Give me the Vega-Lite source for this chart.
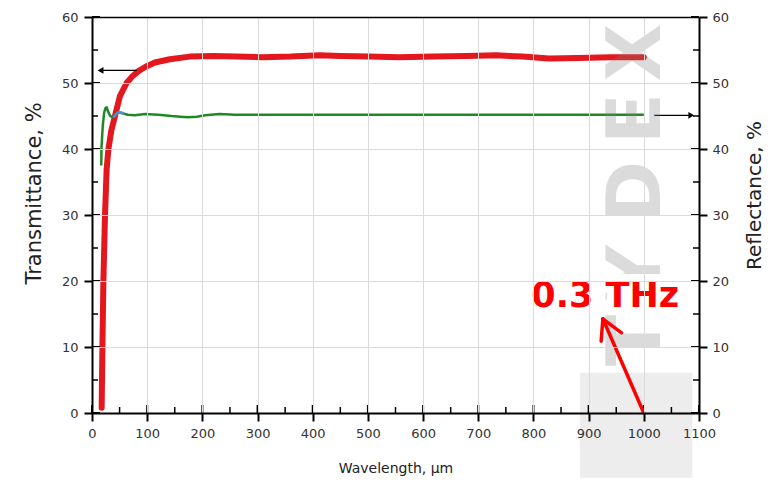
{
  "$schema": "https://vega.github.io/schema/vega-lite/v6.json",
  "width": 607,
  "height": 396,
  "autosize": "none",
  "padding": {"left": 92, "top": 17, "right": 74, "bottom": 69},
  "background": "white",
  "config": {
    "view": {"stroke": null},
    "font": "DejaVu Sans",
    "axis": {
      "domainColor": "black",
      "domainWidth": 2,
      "tickColor": "black",
      "tickWidth": 2,
      "labelColor": "#333333",
      "labelFont": "DejaVu Sans",
      "labelFontSize": 13,
      "titleFont": "DejaVu Sans",
      "titleFontWeight": "normal",
      "titleColor": "#222222",
      "labelFlush": false,
      "labelOverlap": false,
      "gridColor": "#dadada",
      "gridWidth": 1,
      "format": "d"
    }
  },
  "datasets": {
    "transmittance": [
      {"wavelength": 17.5, "value": 0.8},
      {"wavelength": 18.8, "value": 9.6},
      {"wavelength": 20.6, "value": 19.8},
      {"wavelength": 23.5, "value": 29.8},
      {"wavelength": 26.5, "value": 36.9},
      {"wavelength": 29.6, "value": 39.9},
      {"wavelength": 35, "value": 42.8},
      {"wavelength": 41.6, "value": 45},
      {"wavelength": 50.6, "value": 48},
      {"wavelength": 62.7, "value": 50},
      {"wavelength": 73, "value": 51},
      {"wavelength": 84, "value": 51.8},
      {"wavelength": 98, "value": 52.5},
      {"wavelength": 114, "value": 53.1},
      {"wavelength": 141, "value": 53.6},
      {"wavelength": 177, "value": 54.0},
      {"wavelength": 220, "value": 54.1},
      {"wavelength": 260, "value": 54.0},
      {"wavelength": 309, "value": 53.9},
      {"wavelength": 360, "value": 54.0},
      {"wavelength": 412, "value": 54.2},
      {"wavelength": 450, "value": 54.1},
      {"wavelength": 502, "value": 54.0},
      {"wavelength": 556, "value": 53.9},
      {"wavelength": 620, "value": 54.0},
      {"wavelength": 680, "value": 54.1},
      {"wavelength": 732, "value": 54.2},
      {"wavelength": 780, "value": 54.0},
      {"wavelength": 828, "value": 53.7},
      {"wavelength": 881, "value": 53.8},
      {"wavelength": 940, "value": 53.9},
      {"wavelength": 1000, "value": 53.9}
    ],
    "reflectance": [
      {"wavelength": 16.8, "value": 37.5},
      {"wavelength": 17.2, "value": 40.2},
      {"wavelength": 19.5, "value": 43.5},
      {"wavelength": 22, "value": 45.5},
      {"wavelength": 24.5, "value": 46.2},
      {"wavelength": 26.6, "value": 46.3},
      {"wavelength": 29, "value": 45.7},
      {"wavelength": 33, "value": 45.0},
      {"wavelength": 38.7, "value": 44.8},
      {"wavelength": 43, "value": 45.2},
      {"wavelength": 47.7, "value": 45.6},
      {"wavelength": 55, "value": 45.4},
      {"wavelength": 65, "value": 45.2},
      {"wavelength": 77.7, "value": 45.1},
      {"wavelength": 96, "value": 45.3},
      {"wavelength": 120, "value": 45.2},
      {"wavelength": 144, "value": 45.0},
      {"wavelength": 160, "value": 44.9},
      {"wavelength": 174, "value": 44.8},
      {"wavelength": 190, "value": 44.9},
      {"wavelength": 205, "value": 45.1},
      {"wavelength": 231, "value": 45.3},
      {"wavelength": 260, "value": 45.2},
      {"wavelength": 300, "value": 45.2},
      {"wavelength": 400, "value": 45.2},
      {"wavelength": 500, "value": 45.2},
      {"wavelength": 600, "value": 45.2},
      {"wavelength": 700, "value": 45.2},
      {"wavelength": 800, "value": 45.2},
      {"wavelength": 900, "value": 45.2},
      {"wavelength": 1000, "value": 45.2}
    ],
    "crossing": [
      {"wavelength": 38.7, "value": 44.8},
      {"wavelength": 43, "value": 45.2},
      {"wavelength": 47.7, "value": 45.6},
      {"wavelength": 54, "value": 45.5},
      {"wavelength": 59, "value": 45.4}
    ],
    "x_major": [
      {"value": 0}, {"value": 100}, {"value": 200}, {"value": 300}, {"value": 400}, {"value": 500},
      {"value": 600}, {"value": 700}, {"value": 800}, {"value": 900}, {"value": 1000}, {"value": 1100}
    ],
    "x_minor": [
      {"value": 50}, {"value": 150}, {"value": 250}, {"value": 350}, {"value": 450}, {"value": 550},
      {"value": 650}, {"value": 750}, {"value": 850}, {"value": 950}, {"value": 1050}
    ],
    "y_major": [
      {"value": 0}, {"value": 10}, {"value": 20}, {"value": 30}, {"value": 40}, {"value": 50}, {"value": 60}
    ],
    "y_minor": [
      {"value": 5}, {"value": 15}, {"value": 25}, {"value": 35}, {"value": 45}, {"value": 55}
    ],
    "pointers": [
      {"side": "left", "x1": 81, "x2": 15, "level": 51.9},
      {"side": "right", "x1": 1019, "x2": 1085, "level": 45.1}
    ],
    "heads": [
      {"side": "left", "wavelength": 15.5, "level": 51.9, "shape": "triangle-left"},
      {"side": "right", "wavelength": 1086, "level": 45.1, "shape": "triangle-right"}
    ],
    "watermark": [
      {"letter": "T", "level": 11},
      {"letter": "Y", "level": 21.3},
      {"letter": "D", "level": 33.5},
      {"letter": "E", "level": 44.6},
      {"letter": "X", "level": 54.6}
    ],
    "logo": [
      {"x1": 884, "x2": 1088, "y1": 6.1, "y2": -9.8}
    ],
    "callout": [
      {"label": "0.3 THz", "wavelength": 930, "level": 16.1}
    ],
    "callout_arrow": [
      {"x1": 1000, "y1": 0, "x2": 925.8, "y2": 14.27},
      {"x1": 925.8, "y1": 14.27, "x2": 922.7, "y2": 10.88},
      {"x1": 925.8, "y1": 14.27, "x2": 959.7, "y2": 12.15}
    ]
  },
  "resolve": {"axis": {"x": "independent", "y": "independent"}},
  "layer": [
    {
      "data": {"name": "transmittance"},
      "mark": {"type": "line", "color": "#e3171d", "strokeWidth": 6, "strokeCap": "round", "strokeJoin": "round", "clip": false},
      "encoding": {
        "x": {
          "field": "wavelength", "type": "quantitative",
          "scale": {"domain": [0, 1100], "nice": false, "zero": false},
          "axis": {
            "orient": "bottom",
            "values": [0, 100, 200, 300, 400, 500, 600, 700, 800, 900, 1000, 1100],
            "grid": true, "tickSize": 8, "labelPadding": 6,
            "title": "Wavelength, μm", "titleFontSize": 14, "titlePadding": 21,
            "zindex": 1
          }
        },
        "y": {
          "field": "value", "type": "quantitative",
          "scale": {"domain": [0, 60], "nice": false, "zero": false},
          "axis": {
            "orient": "left",
            "values": [0, 10, 20, 30, 40, 50, 60],
            "grid": true, "tickSize": 8, "labelPadding": 6,
            "title": "Transmittance, %", "titleFontSize": 21, "titlePadding": 17, "titleY": 176,
            "zindex": 1
          }
        }
      }
    },
    {
      "data": {"name": "reflectance"},
      "mark": {"type": "line", "color": "#1f8a24", "strokeWidth": 2.5, "strokeJoin": "round"},
      "encoding": {
        "x": {
          "field": "wavelength", "type": "quantitative",
          "scale": {"domain": [0, 1100], "nice": false, "zero": false},
          "axis": {"orient": "top", "labels": false, "ticks": false, "grid": false, "title": null, "domainWidth": 1.5, "zindex": 1}
        },
        "y": {
          "field": "value", "type": "quantitative",
          "scale": {"domain": [0, 60], "nice": false, "zero": false},
          "axis": {
            "orient": "right",
            "values": [0, 10, 20, 30, 40, 50, 60],
            "grid": false, "tickSize": 8, "labelPadding": 5,
            "title": "Reflectance, %", "titleFontSize": 20, "titleAngle": -90, "titlePadding": 36, "titleY": 178,
            "zindex": 1
          }
        }
      }
    },
    {
      "data": {"name": "crossing"},
      "mark": {"type": "line", "color": "#4f8fd6", "strokeWidth": 2.5},
      "encoding": {
        "x": {"field": "wavelength", "type": "quantitative", "scale": {"domain": [0, 1100], "nice": false, "zero": false}, "axis": null},
        "y": {"field": "value", "type": "quantitative", "scale": {"domain": [0, 60], "nice": false, "zero": false}, "axis": null}
      }
    },
    {
      "data": {"name": "x_major"},
      "mark": {"type": "tick", "orient": "vertical", "size": 8, "thickness": 2, "color": "black", "opacity": 1, "yOffset": -4},
      "encoding": {
        "x": {"field": "value", "type": "quantitative", "scale": {"domain": [0, 1100], "nice": false, "zero": false}, "axis": null},
        "y": {"datum": 0, "type": "quantitative", "scale": {"domain": [0, 60], "nice": false, "zero": false}, "axis": null}
      }
    },
    {
      "data": {"name": "x_minor"},
      "mark": {"type": "tick", "orient": "vertical", "size": 6, "thickness": 1.5, "color": "black", "opacity": 1, "yOffset": -3},
      "encoding": {
        "x": {"field": "value", "type": "quantitative", "scale": {"domain": [0, 1100], "nice": false, "zero": false}, "axis": null},
        "y": {"datum": 0, "type": "quantitative", "scale": {"domain": [0, 60], "nice": false, "zero": false}, "axis": null}
      }
    },
    {
      "data": {"name": "y_major"},
      "mark": {"type": "tick", "orient": "horizontal", "size": 8, "thickness": 2, "color": "black", "opacity": 1, "xOffset": 4},
      "encoding": {
        "x": {"datum": 0, "type": "quantitative", "scale": {"domain": [0, 1100], "nice": false, "zero": false}, "axis": null},
        "y": {"field": "value", "type": "quantitative", "scale": {"domain": [0, 60], "nice": false, "zero": false}, "axis": null}
      }
    },
    {
      "data": {"name": "y_minor"},
      "mark": {"type": "tick", "orient": "horizontal", "size": 6, "thickness": 1.5, "color": "black", "opacity": 1, "xOffset": 3},
      "encoding": {
        "x": {"datum": 0, "type": "quantitative", "scale": {"domain": [0, 1100], "nice": false, "zero": false}, "axis": null},
        "y": {"field": "value", "type": "quantitative", "scale": {"domain": [0, 60], "nice": false, "zero": false}, "axis": null}
      }
    },
    {
      "data": {"name": "y_major"},
      "mark": {"type": "tick", "orient": "horizontal", "size": 8, "thickness": 2, "color": "black", "opacity": 1, "xOffset": -4},
      "encoding": {
        "x": {"datum": 1100, "type": "quantitative", "scale": {"domain": [0, 1100], "nice": false, "zero": false}, "axis": null},
        "y": {"field": "value", "type": "quantitative", "scale": {"domain": [0, 60], "nice": false, "zero": false}, "axis": null}
      }
    },
    {
      "data": {"name": "y_minor"},
      "mark": {"type": "tick", "orient": "horizontal", "size": 6, "thickness": 1.5, "color": "black", "opacity": 1, "xOffset": -3},
      "encoding": {
        "x": {"datum": 1100, "type": "quantitative", "scale": {"domain": [0, 1100], "nice": false, "zero": false}, "axis": null},
        "y": {"field": "value", "type": "quantitative", "scale": {"domain": [0, 60], "nice": false, "zero": false}, "axis": null}
      }
    },
    {
      "data": {"name": "pointers"},
      "mark": {"type": "rule", "color": "black", "strokeWidth": 1.3},
      "encoding": {
        "x": {"field": "x1", "type": "quantitative", "scale": {"domain": [0, 1100], "nice": false, "zero": false}, "axis": null},
        "x2": {"field": "x2"},
        "y": {"field": "level", "type": "quantitative", "scale": {"domain": [0, 60], "nice": false, "zero": false}, "axis": null}
      }
    },
    {
      "data": {"name": "heads"},
      "mark": {"type": "point", "filled": true, "color": "black", "opacity": 1, "size": 45},
      "encoding": {
        "x": {"field": "wavelength", "type": "quantitative", "scale": {"domain": [0, 1100], "nice": false, "zero": false}, "axis": null},
        "y": {"field": "level", "type": "quantitative", "scale": {"domain": [0, 60], "nice": false, "zero": false}, "axis": null},
        "shape": {"field": "shape", "type": "nominal", "scale": null}
      }
    },
    {
      "data": {"name": "watermark"},
      "mark": {"type": "text", "font": "DejaVu Sans", "fontWeight": "bold", "fontSize": 75, "angle": 270, "align": "center", "baseline": "alphabetic", "color": "#808080", "opacity": 0.28},
      "encoding": {
        "x": {"datum": 1029, "type": "quantitative", "scale": {"domain": [0, 1100], "nice": false, "zero": false}, "axis": null},
        "y": {"field": "level", "type": "quantitative", "scale": {"domain": [0, 60], "nice": false, "zero": false}, "axis": null},
        "text": {"field": "letter"}
      }
    },
    {
      "data": {"name": "logo"},
      "mark": {"type": "rect", "color": "black", "opacity": 0.07, "clip": false},
      "encoding": {
        "x": {"field": "x1", "type": "quantitative", "scale": {"domain": [0, 1100], "nice": false, "zero": false}, "axis": null},
        "x2": {"field": "x2"},
        "y": {"field": "y1", "type": "quantitative", "scale": {"domain": [0, 60], "nice": false, "zero": false}, "axis": null},
        "y2": {"field": "y2"}
      }
    },
    {
      "data": {"name": "callout"},
      "mark": {"type": "text", "font": "DejaVu Sans", "fontWeight": "bold", "fontSize": 35, "align": "center", "baseline": "alphabetic", "stroke": "white", "strokeWidth": 14, "strokeJoin": "miter", "color": "white"},
      "encoding": {
        "x": {"field": "wavelength", "type": "quantitative", "scale": {"domain": [0, 1100], "nice": false, "zero": false}, "axis": null},
        "y": {"field": "level", "type": "quantitative", "scale": {"domain": [0, 60], "nice": false, "zero": false}, "axis": null},
        "text": {"field": "label"}
      }
    },
    {
      "data": {"name": "callout"},
      "mark": {"type": "text", "font": "DejaVu Sans", "fontWeight": "bold", "fontSize": 35, "align": "center", "baseline": "alphabetic", "color": "#ff0000"},
      "encoding": {
        "x": {"field": "wavelength", "type": "quantitative", "scale": {"domain": [0, 1100], "nice": false, "zero": false}, "axis": null},
        "y": {"field": "level", "type": "quantitative", "scale": {"domain": [0, 60], "nice": false, "zero": false}, "axis": null},
        "text": {"field": "label"}
      }
    },
    {
      "data": {"name": "callout_arrow"},
      "mark": {"type": "rule", "color": "#ff0000", "strokeWidth": 3.5, "strokeCap": "round"},
      "encoding": {
        "x": {"field": "x1", "type": "quantitative", "scale": {"domain": [0, 1100], "nice": false, "zero": false}, "axis": null},
        "x2": {"field": "x2"},
        "y": {"field": "y1", "type": "quantitative", "scale": {"domain": [0, 60], "nice": false, "zero": false}, "axis": null},
        "y2": {"field": "y2"}
      }
    }
  ]
}
